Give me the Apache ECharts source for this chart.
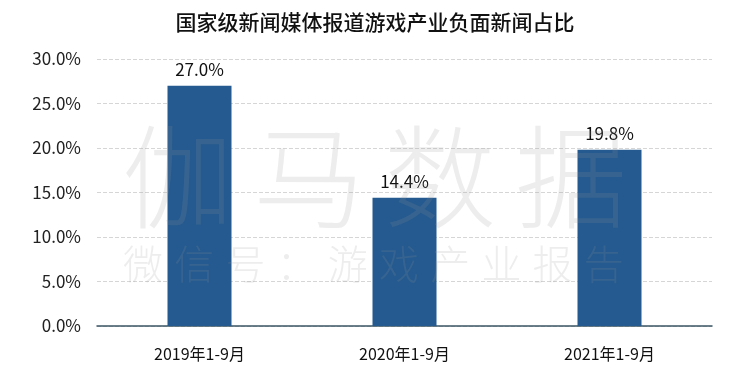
<!doctype html>
<html lang="zh-CN">
<head>
<meta charset="UTF-8"/>
<title>国家级新闻媒体报道游戏产业负面新闻占比</title>
<script src="https://cdn.jsdelivr.net/npm/echarts@6/dist/echarts.min.js"></script>
<style>
html,body{margin:0;padding:0;background:#fff;}
#chart{width:750px;height:376px;}
</style>
</head>
<body>
<div id="chart"></div>
<script>
// 数据
var categories = ['2019年1-9月', '2020年1-9月', '2021年1-9月'];
var shareValues = [27.0, 14.4, 19.8];
var yTicks = [0, 5, 10, 15, 20, 25, 30];

var FONT = '"Noto Sans CJK SC", "Noto Sans", sans-serif';

// 水印
var markBig = ['伽', '马', '数', '据'];
var markSmall = ['微', '信', '号', '：', '游', '戏', '产', '业', '报', '告'];
var marks = [];
markBig.forEach(function (ch, i) {
    marks.push({
        type: 'text', z: 100, silent: true,
        x: 178 + i * 131, y: 177,
        style: { text: ch, font: '300 112px ' + FONT, fill: 'rgba(150,150,150,0.17)', align: 'center', verticalAlign: 'middle' }
    });
});
markSmall.forEach(function (ch, i) {
    marks.push({
        type: 'text', z: 100, silent: true,
        x: 143 + i * 51.2, y: 264,
        style: { text: ch, font: '300 40px ' + FONT, fill: 'rgba(150,150,150,0.17)', align: 'center', verticalAlign: 'middle' }
    });
});

var myChart = echarts.init(document.getElementById('chart'));

var option = {
    backgroundColor: '#fff',
    animation: false,
    title: {
        text: '国家级新闻媒体报道游戏产业负面新闻占比',
        left: 'center',
        top: 7,
        textStyle: { fontFamily: FONT, fontSize: 21, fontWeight: 500, color: '#111' }
    },
    grid: { left: 97, right: 38, top: 59, bottom: 50 },
    xAxis: {
        type: 'category',
        data: categories,
        axisTick: { show: false },
        axisLine: { lineStyle: { color: '#3b5566', width: 1.5 } },
        axisLabel: { fontFamily: FONT, fontSize: 16, color: '#111', margin: 20 }
    },
    yAxis: {
        type: 'value',
        min: yTicks[0],
        max: yTicks[yTicks.length - 1],
        interval: yTicks[1] - yTicks[0],
        axisLine: { show: false },
        axisTick: { show: false },
        splitLine: { lineStyle: { color: '#d6d6d6', type: 'dashed' } },
        axisLabel: {
            fontFamily: FONT, fontSize: 17, color: '#222', margin: 16,
            formatter: function (v) { return v.toFixed(1) + '%'; }
        }
    },
    series: [{
        type: 'bar',
        data: shareValues,
        barWidth: 64,
        itemStyle: { color: '#245a8f' },
        label: {
            show: true, position: 'top', distance: 8,
            fontFamily: FONT, fontSize: 17, color: '#111',
            formatter: function (p) { return p.value.toFixed(1) + '%'; }
        }
    }],
    graphic: marks
};

myChart.setOption(option);
</script>
</body>
</html>
